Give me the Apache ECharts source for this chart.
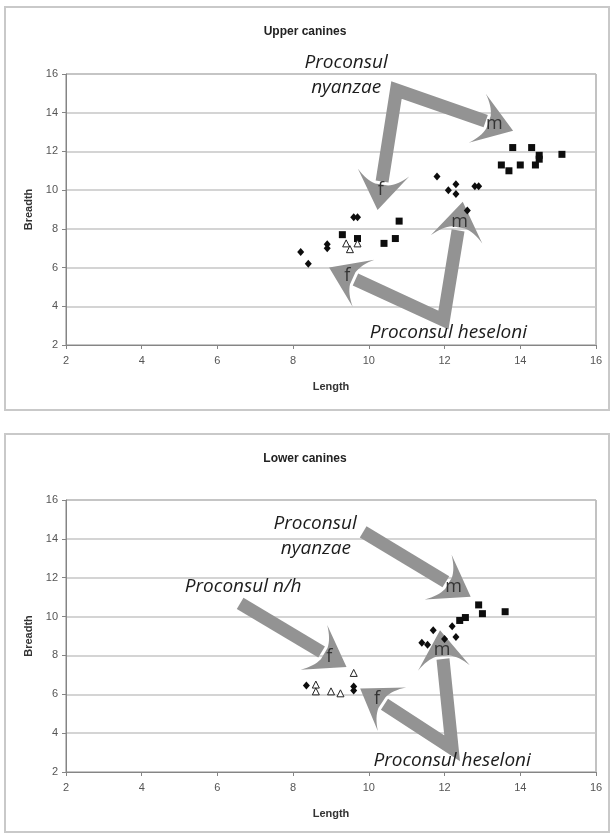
<!DOCTYPE html>
<html>
<head>
<meta charset="utf-8">
<script src="https://cdn.jsdelivr.net/npm/echarts@6/dist/echarts.min.js"></script>
<style>
  html, body { margin: 0; padding: 0; background: #fff; }
  #chart { width: 610px; height: 836px; }
</style>
</head>
<body>
<div id="chart"></div>
<script>
// Canine crown measurements (mm): [length, breadth]
const upperNyanzae = [[13.8,12.2],[14.3,12.2],[13.5,11.3],[13.7,11.0],[14.0,11.3],[14.4,11.3],[14.5,11.8],[14.5,11.6],[15.1,11.85],[10.8,8.4],[9.3,7.7],[9.7,7.5],[10.4,7.25],[10.7,7.5]];
const upperHeseloni = [[8.2,6.8],[8.4,6.2],[8.9,7.2],[8.9,7.0],[9.6,8.6],[9.7,8.6],[11.8,10.7],[12.1,10.0],[12.3,10.3],[12.3,9.8],[12.8,10.2],[12.9,10.2],[12.6,8.95]];
const upperIndet = [[9.4,7.25],[9.5,6.95],[9.7,7.25]];

const lowerNyanzae = [[12.9,10.6],[13.0,10.15],[13.6,10.25],[12.55,9.95],[12.4,9.8]];
const lowerHeseloni = [[12.2,9.5],[11.7,9.3],[12.3,8.95],[12.0,8.85],[11.4,8.65],[11.55,8.55],[8.35,6.45],[9.6,6.4],[9.6,6.2]];
const lowerIndet = [[8.6,6.5],[8.6,6.15],[9.0,6.15],[9.25,6.05],[9.6,7.1]];

const axisTicks = [2, 4, 6, 8, 10, 12, 14, 16];
const panelTitles = ['Upper canines', 'Lower canines'];
const xName = 'Length';
const yName = 'Breadth';

// Callout labels and arrows, placed in each panel's data space
const callouts = [
  { grid: 0, text: 'Proconsul', at: [9.40, 16.57] },
  { grid: 0, text: 'nyanzae', at: [9.40, 15.28] },
  { grid: 0, text: 'Proconsul heseloni', at: [12.10, 2.62] },
  { grid: 1, text: 'Proconsul', at: [8.58, 14.80] },
  { grid: 1, text: 'nyanzae', at: [8.60, 13.51] },
  { grid: 1, text: 'Proconsul n/h', at: [6.68, 11.53] },
  { grid: 1, text: 'Proconsul heseloni', at: [12.20, 2.60] }
];
const arrows = [
  { grid: 0, from: [10.73, 15.17], heads: [{ tip: [13.81, 13.07], letter: 'm' }, { tip: [10.23, 8.97], letter: 'f' }] },
  { grid: 0, from: [11.97, 3.29], heads: [{ tip: [12.48, 9.40], letter: 'm' }, { tip: [8.95, 6.01], letter: 'f' }] },
  { grid: 1, from: [9.85, 14.36], heads: [{ tip: [12.69, 11.02], letter: 'm' }] },
  { grid: 1, from: [6.60, 10.68], heads: [{ tip: [9.41, 7.41], letter: 'f' }] },
  { grid: 1, from: [12.20, 3.22], heads: [{ tip: [11.88, 9.30], letter: 'm' }, { tip: [9.77, 6.30], letter: 'f' }] }
];

const AXIS_GRAY = '#858585';
const GRID_GRAY = '#c6c6c6';
const ARROW_GRAY = '#939393';

function makeX(i) {
  return {
    gridIndex: i, type: 'value',
    min: axisTicks[0], max: axisTicks[axisTicks.length - 1], interval: 2,
    name: xName, nameLocation: 'middle', nameGap: 36,
    nameTextStyle: { fontFamily: 'Liberation Sans', fontWeight: 'bold', fontSize: 11, color: '#333' },
    axisLine: { show: true, lineStyle: { color: AXIS_GRAY, width: 1 } },
    axisTick: { show: true, length: 4, lineStyle: { color: AXIS_GRAY } },
    axisLabel: { fontFamily: 'Liberation Sans', fontSize: 11, color: '#555', margin: 10 },
    splitLine: { show: false }
  };
}
function makeY(i) {
  return {
    gridIndex: i, type: 'value',
    min: axisTicks[0], max: axisTicks[axisTicks.length - 1], interval: 2,
    name: yName, nameLocation: 'middle', nameGap: 30, nameRotate: 90,
    nameTextStyle: { fontFamily: 'Liberation Sans', fontWeight: 'bold', fontSize: 11, color: '#333' },
    axisLine: { show: true, lineStyle: { color: AXIS_GRAY, width: 1 } },
    axisTick: { show: true, length: 4, lineStyle: { color: AXIS_GRAY } },
    axisLabel: { fontFamily: 'Liberation Sans', fontSize: 11, color: '#555', margin: 8 },
    splitLine: { show: true, lineStyle: { color: GRID_GRAY, width: 1.5 } }
  };
}
function scatter(i, data, symbol, size, filled) {
  return {
    type: 'scatter', xAxisIndex: i, yAxisIndex: i, data: data,
    symbol: symbol, symbolSize: size, z: 5, silent: true,
    itemStyle: filled ? { color: '#0d0d0d', opacity: 1 } : { color: '#fff', borderColor: '#222', borderWidth: 1, opacity: 1 }
  };
}

const chart = echarts.init(document.getElementById('chart'), null, { renderer: 'canvas' });
chart.setOption({
  animation: false,
  backgroundColor: '#fff',
  title: [
    { text: panelTitles[0], left: 'center', top: 21, textStyle: { fontFamily: 'Liberation Sans', fontWeight: 'bold', fontSize: 12, color: '#222' } },
    { text: panelTitles[1], left: 'center', top: 448, textStyle: { fontFamily: 'Liberation Sans', fontWeight: 'bold', fontSize: 12, color: '#222' } }
  ],
  grid: [
    { left: 66, top: 74, width: 530, height: 271, show: true, borderColor: AXIS_GRAY, borderWidth: 1 },
    { left: 66, top: 500, width: 530, height: 272, show: true, borderColor: AXIS_GRAY, borderWidth: 1 }
  ],
  xAxis: [makeX(0), makeX(1)],
  yAxis: [makeY(0), makeY(1)],
  series: [
    scatter(0, upperNyanzae, 'rect', 7, true),
    scatter(0, upperHeseloni, 'diamond', [7, 8], true),
    scatter(0, upperIndet, 'triangle', 7, false),
    scatter(1, lowerNyanzae, 'rect', 7, true),
    scatter(1, lowerHeseloni, 'diamond', [7, 8], true),
    scatter(1, lowerIndet, 'triangle', 7, false)
  ]
});

// Linear map from data space to pixels for a panel (also valid outside the axis range)
function mapper(gi) {
  const a = chart.convertToPixel({ gridIndex: gi }, [2, 2]);
  const b = chart.convertToPixel({ gridIndex: gi }, [16, 16]);
  return v => [a[0] + (v[0] - 2) / 14 * (b[0] - a[0]), a[1] + (v[1] - 2) / 14 * (b[1] - a[1])];
}
const maps = [mapper(0), mapper(1)];

const elements = [];
// Outer chart frames
[[5, 7, 604, 403], [5, 434, 604, 398]].forEach(r => {
  elements.push({ type: 'rect', shape: { x: r[0], y: r[1], width: r[2], height: r[3] }, style: { fill: 'none', stroke: '#c9c9c9', lineWidth: 2 }, z: 0, silent: true });
});

const HEAD_LEN = 38, HEAD_HALF = 26, NECK = 26, SHAFT = 13;
function pt(T, d, n, a, p) { return [T[0] + d[0] * a + n[0] * p, T[1] + d[1] * a + n[1] * p]; }
// Sample a quadratic curve P0 -> P2 with control P1
function quad(P0, P1, P2, steps) {
  const out = [];
  for (let i = 1; i <= steps; i++) {
    const t = i / steps, u = 1 - t;
    out.push([u * u * P0[0] + 2 * u * t * P1[0] + t * t * P2[0], u * u * P0[1] + 2 * u * t * P1[1] + t * t * P2[1]]);
  }
  return out;
}

arrows.forEach(ar => {
  const m = maps[ar.grid];
  const V = m(ar.from);
  const bases = [];
  ar.heads.forEach(h => {
    const T = m(h.tip);
    const dx = T[0] - V[0], dy = T[1] - V[1];
    const len = Math.hypot(dx, dy);
    const d = [dx / len, dy / len];
    const n = [-d[1], d[0]];
    bases.push(pt(T, d, n, -NECK - 3, 0));
    const A = pt(T, d, n, -HEAD_LEN, HEAD_HALF);
    const C1 = pt(T, d, n, -28, 16);
    const J1 = pt(T, d, n, -NECK, SHAFT / 2);
    const J2 = pt(T, d, n, -NECK, -SHAFT / 2);
    const C2 = pt(T, d, n, -28, -16);
    const B = pt(T, d, n, -HEAD_LEN, -HEAD_HALF);
    const poly = [T, A].concat(quad(A, C1, J1, 8), [J2], quad(J2, C2, B, 8));
    elements.push({ type: 'polygon', shape: { points: poly }, style: { fill: ARROW_GRAY }, z: 3, silent: true });
    const L = pt(T, d, n, -20, 0);
    elements.push({ type: 'text', x: L[0], y: L[1], style: { text: h.letter, font: '18px "Open Sans"', fill: '#333', align: 'center', verticalAlign: 'middle' }, z: 4, silent: true });
  });
  const pts = bases.length === 2 ? [bases[0], V, bases[1]] : [V, bases[0]];
  elements.push({ type: 'polyline', shape: { points: pts }, style: { stroke: ARROW_GRAY, lineWidth: SHAFT, lineJoin: 'miter', miterLimit: 10, fill: null }, z: 3, silent: true });
});

callouts.forEach(c => {
  const p = maps[c.grid](c.at);
  elements.push({ type: 'text', x: p[0], y: p[1], style: { text: c.text, font: 'italic 19px "Open Sans"', fill: '#1c1c1c', align: 'center', verticalAlign: 'middle' }, z: 6, silent: true });
});

chart.setOption({ graphic: { elements: elements } });
</script>
</body>
</html>
